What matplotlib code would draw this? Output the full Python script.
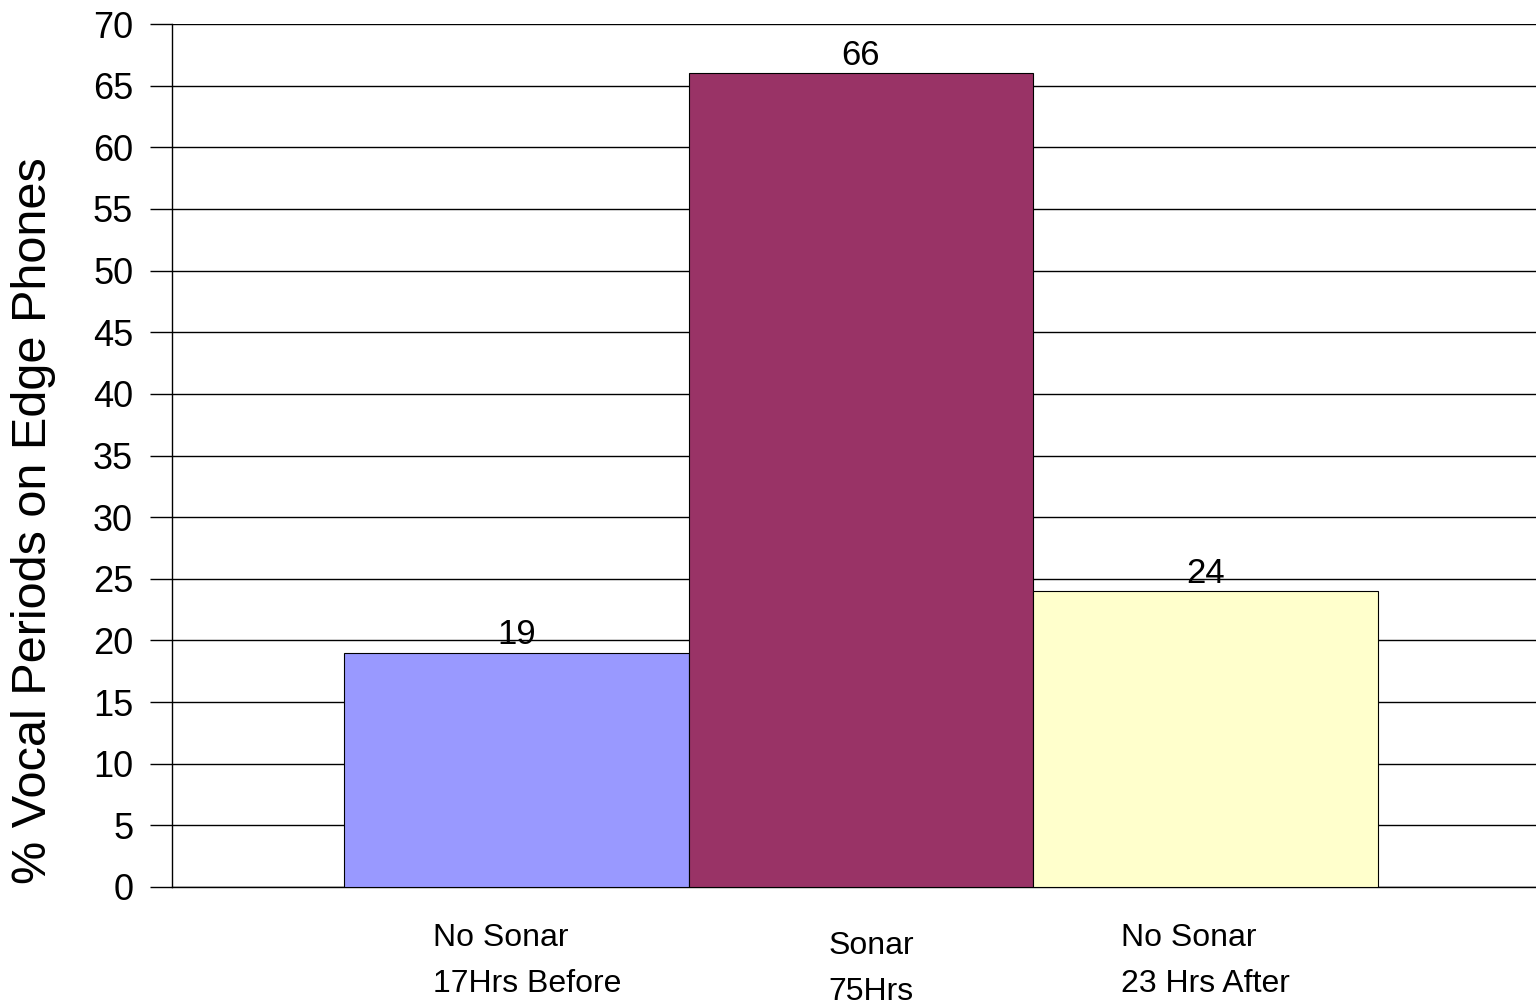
import matplotlib.pyplot as plt

categories = ["No Sonar\n17Hrs Before", "Sonar\n75Hrs", "No Sonar\n23 Hrs After"]
values = [19, 66, 24]
colors = ["#9999FF", "#993366", "#FFFFCC"]
yticks = list(range(0, 75, 5))

plt.rcParams["font.family"] = ["Liberation Sans", "DejaVu Sans"]

fig = plt.figure(figsize=(15.36, 10.06), dpi=100)
ax = fig.add_axes([0.112, 0.1183, 0.888, 0.8578])

x = list(range(len(values)))
bars = ax.bar(x, values, width=1.0, color=colors, edgecolor="black", linewidth=0.8, zorder=3)

for xi, v in zip(x, values):
    ax.annotate(str(v), (xi, v), xytext=(0, 1), textcoords="offset points",
                ha="center", va="bottom", fontsize=25, zorder=4)

ax.set_xlim(-1, 2.96)
ax.set_ylim(0, 70)
ax.set_yticks(yticks)
ax.tick_params(axis="y", length=16, width=1, labelsize=26, pad=12, direction="out")
ax.yaxis.grid(True, color="black", linewidth=1, zorder=0)

ax.set_xticks([])
for xi, lab in zip(x, categories):
    dy = -0.042 if xi != 1 else -0.051
    ax.text(xi + (0.03 if xi != 2 else 0), dy, lab, transform=ax.get_xaxis_transform(),
            ha="center", va="top", multialignment="left", fontsize=23, linespacing=1.7)

for side in ["top", "right"]:
    ax.spines[side].set_visible(False)
ax.spines["left"].set_linewidth(1)
ax.spines["bottom"].set_linewidth(1)

ax.set_ylabel("% Vocal Periods on Edge Phones", fontsize=35)
ax.yaxis.set_label_coords(-0.085, 0.425)

fig.savefig("out.png", dpi=100)
